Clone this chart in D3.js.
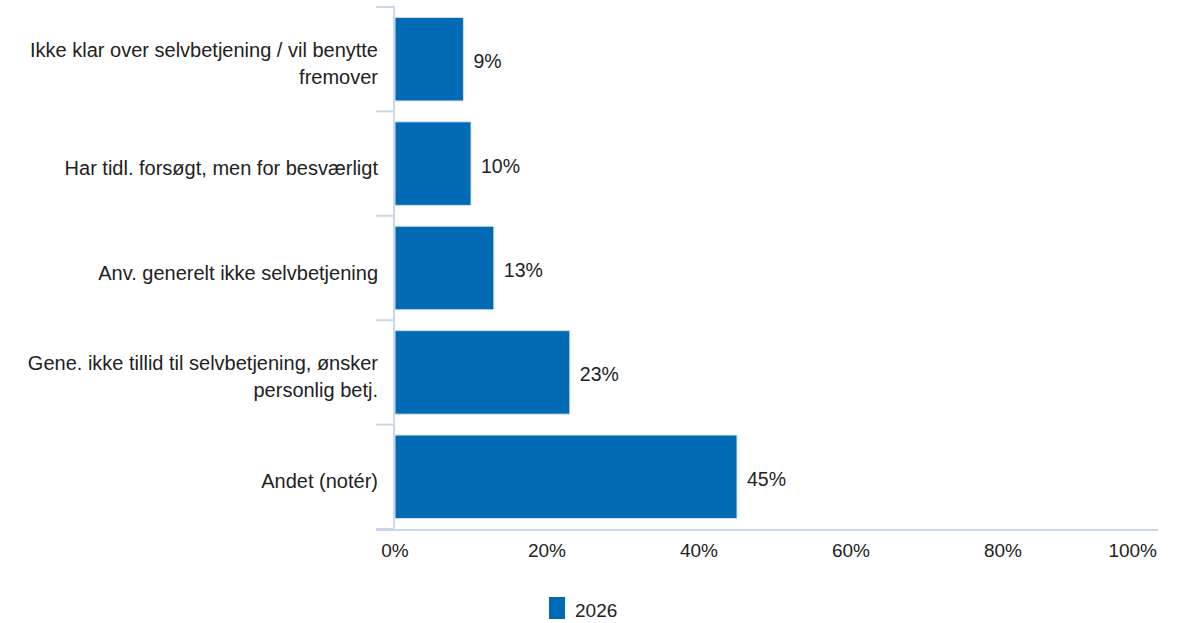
<!DOCTYPE html>
<html><head><meta charset="utf-8">
<script src="https://cdn.jsdelivr.net/npm/d3@7"></script>
<style>body{margin:0;background:#fff;font-family:"Liberation Sans",Arial,sans-serif;}</style>
</head><body>
<svg id="c" width="1181" height="623"></svg>
<script>
const categories = [
  ["Ikke klar over selvbetjening / vil benytte", "fremover"],
  ["Har tidl. forsøgt, men for besværligt"],
  ["Anv. generelt ikke selvbetjening"],
  ["Gene. ikke tillid til selvbetjening, ønsker", "personlig betj."],
  ["Andet (notér)"]
];
const values = [9, 10, 13, 23, 45];
const xTicks = [0, 20, 40, 60, 80, 100];
const seriesName = "2026";
const color = "#006ab4";
const axisColor = "#ccd6eb";

(function () {
const svg = d3.select("#c");
const pLeft = 395, pRight = 1155, pTop = 7, pBottom = 529;
const keys = categories.map((c, i) => i);
const y = d3.scaleBand().domain(keys).range([pTop, pBottom]).padding(0);
const x = d3.scaleLinear().domain([0, 100]).range([pLeft, pRight]);

const boundaries = keys.map(k => y(k)).concat([pBottom]);
svg.selectAll("line.ct").data(boundaries).enter().append("line")
  .attr("x1", 376).attr("x2", pLeft).attr("y1", d => d).attr("y2", d => d)
  .attr("stroke", axisColor).attr("stroke-width", 2);

const bw = y.bandwidth();
svg.selectAll("rect.bar").data(values).enter().append("rect")
  .attr("x", x(0)).attr("y", (d, i) => y(i) + bw * 0.1)
  .attr("width", d => x(d) - x(0)).attr("height", bw * 0.8)
  .attr("fill", color).attr("stroke", "#d0e0f0").attr("stroke-width", 1);

svg.append("line").attr("x1", pLeft - 1).attr("x2", pLeft - 1).attr("y1", pTop).attr("y2", pBottom)
  .attr("stroke", axisColor).attr("stroke-width", 2);
svg.append("line").attr("x1", 376).attr("x2", 1158).attr("y1", pBottom + 1).attr("y2", pBottom + 1)
  .attr("stroke", axisColor).attr("stroke-width", 2);

svg.selectAll("text.val").data(values).enter().append("text")
  .attr("x", d => x(d) + 10).attr("y", (d, i) => y(i) + bw / 2 + 9)
  .attr("font-size", 19.5).attr("fill", "#222")
  .text(d => d + "%");

categories.forEach((lines, i) => {
  const cy = y(i) + bw / 2;
  const lh = 27;
  const t = svg.append("text").attr("text-anchor", "end").attr("font-size", 20).attr("fill", "#222");
  lines.forEach((ln, j) => {
    t.append("tspan").attr("x", 378)
      .attr("y", cy + 11.5 + (j - (lines.length - 1) / 2) * lh).text(ln);
  });
});

svg.selectAll("text.xt").data(xTicks).enter().append("text")
  .attr("x", d => d === 100 ? 1157 : x(d))
  .attr("text-anchor", d => d === 100 ? "end" : "middle")
  .attr("y", 557).attr("font-size", 19).attr("fill", "#222")
  .text(d => d + "%");

svg.append("rect").attr("x", 549).attr("y", 597).attr("width", 16).attr("height", 22).attr("fill", color);
svg.append("text").attr("x", 575).attr("y", 617).attr("font-size", 19).attr("fill", "#222").text(seriesName);
})();
</script>
</body></html>
